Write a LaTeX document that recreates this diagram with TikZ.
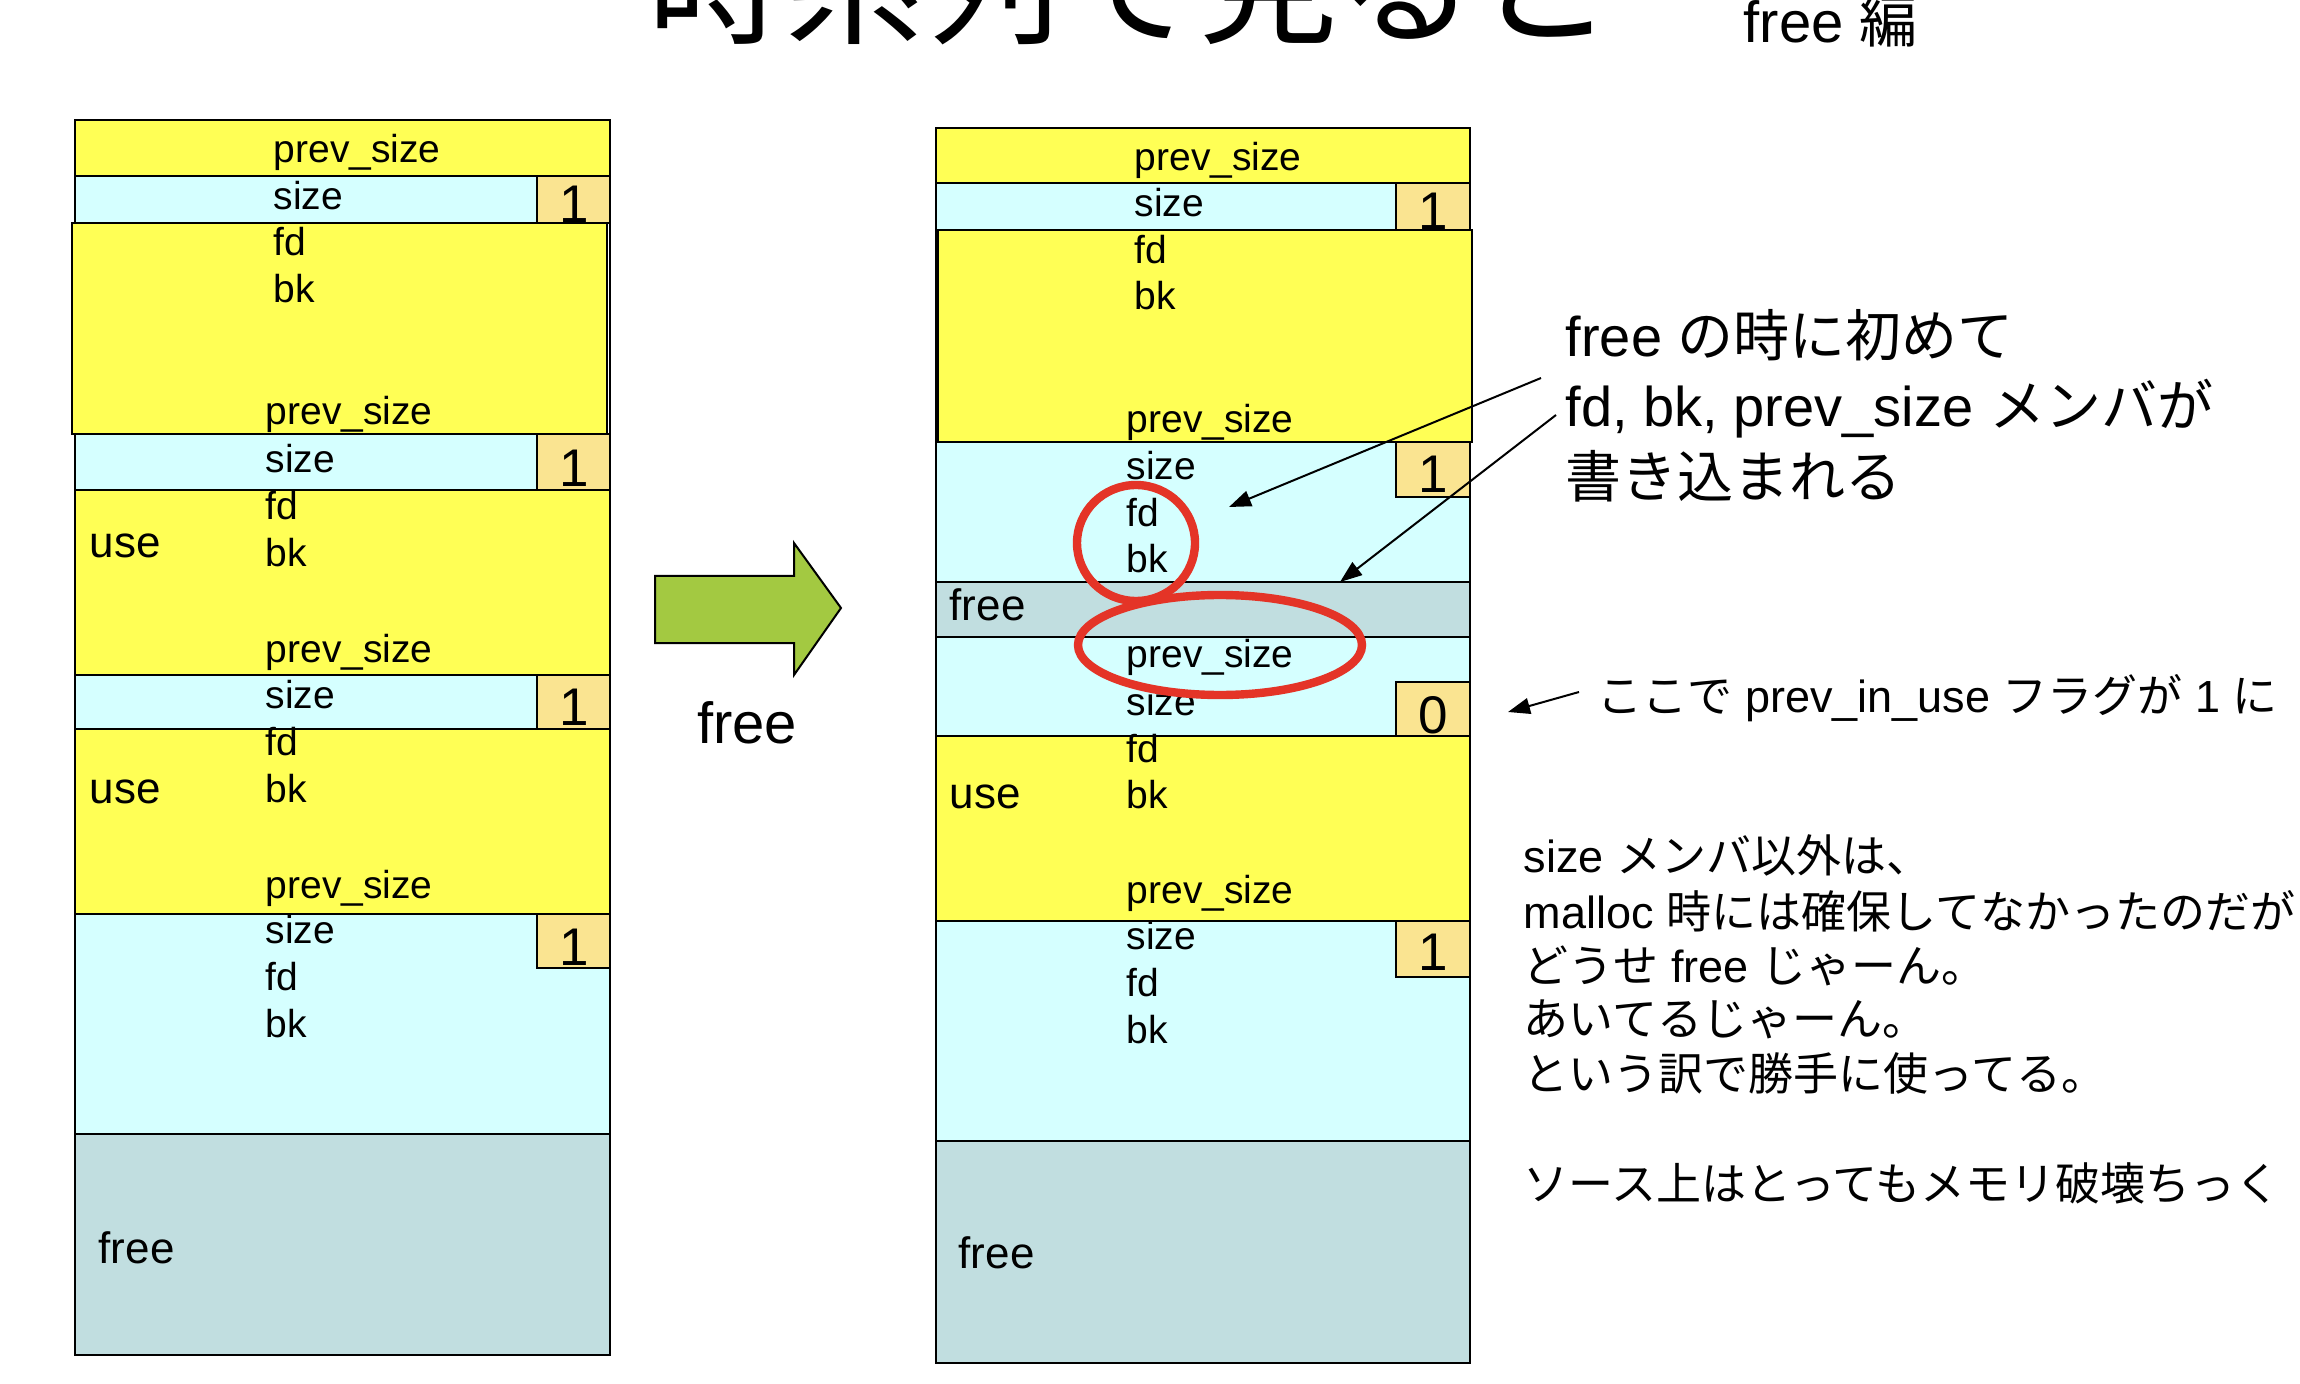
\documentclass[tikz,border=0pt]{standalone}
\usepackage{fontspec}
\setmainfont{Liberation Sans}
\newfontfamily\jp{Noto Sans CJK JP}
\usetikzlibrary{arrows.meta}

\definecolor{chunkYellow}{RGB}{255,255,85}
\definecolor{chunkCyan}{RGB}{213,255,255}
\definecolor{flagTan}{RGB}{250,228,145}
\definecolor{freeTeal}{RGB}{193,222,224}
\definecolor{moveGreen}{RGB}{163,201,65}
\definecolor{markRed}{RGB}{228,52,39}

\tikzset{every picture/.style={line width=0.75pt}}
\tikzset{
  cell/.style={draw=black,line width=1.2pt},
  field/.style={anchor=base west,inner sep=0pt,font=\fontsize{19.5}{23}\selectfont},
  state/.style={anchor=base west,inner sep=0pt,font=\fontsize{22}{26}\selectfont},
  flagnum/.style={anchor=base,inner sep=0pt,font=\fontsize{26.5}{30}\selectfont},
  note/.style={anchor=base west,inner sep=0pt,font=\fontsize{28}{34}\selectfont},
  memo/.style={anchor=base west,inner sep=0pt,font=\fontsize{22.5}{27}\selectfont},
  pointer/.style={line width=1pt,-{Triangle[length=11pt,width=8pt]}},
  ring/.style={draw=markRed,line width=4.2pt},
}

\begin{document}
\begin{tikzpicture}[x=0.5pt,y=0.5pt,yscale=-1,xscale=1]
\useasboundingbox (0,0) rectangle (2300,1384);

% Title (cut by the top edge)
\draw (647,34) node (title) [anchor=base west,inner sep=0pt,font=\fontsize{69}{80}\selectfont\jp] {時系列で見ると};
\draw (1743,43) node (subtitle) [anchor=base west,inner sep=0pt,font=\fontsize{29}{34}\selectfont] {free {\jp 編}};

%% ---------------- before free ----------------
%Shape: Rectangle (frame)
\draw [cell,fill=white] (75,120) rectangle (610,1355);
\draw [cell,fill=chunkYellow] (75,120) rectangle (610,176);
\draw [cell,fill=chunkCyan] (75,176) rectangle (610,223);
\draw [cell,fill=flagTan] (537,176) rectangle (610,223);
\draw [cell,fill=chunkYellow] (72,223) rectangle (607,434);
\draw [cell,fill=chunkCyan] (75,434) rectangle (610,490);
\draw [cell,fill=flagTan] (537,434) rectangle (610,490);
\draw [cell,fill=chunkYellow] (75,490) rectangle (610,675);
\draw [cell,fill=chunkCyan] (75,675) rectangle (610,729);
\draw [cell,fill=flagTan] (537,675) rectangle (610,729);
\draw [cell,fill=chunkYellow] (75,729) rectangle (610,914);
\draw [cell,fill=chunkCyan] (75,914) rectangle (610,1134);
\draw [cell,fill=flagTan] (537,914) rectangle (610,968);
\draw [cell,fill=freeTeal] (75,1134) rectangle (610,1355);

% Text Node
\draw (273,163) node (lPrevA) [field] {prev\_size};
\draw (273,210) node (lSizeA) [field] {size};
\draw (273,256) node (lFdA) [field] {fd};
\draw (273,303) node (lBkA) [field] {bk};
\draw (265,425) node (lPrevB) [field] {prev\_size};
\draw (265,473) node (lSizeB) [field] {size};
\draw (265,520) node (lFdB) [field] {fd};
\draw (265,567) node (lBkB) [field] {bk};
\draw (89,558) node (lUseB) [state] {use};
\draw (265,662) node (lPrevC) [field] {prev\_size};
\draw (265,708) node (lSizeC) [field] {size};
\draw (265,755) node (lFdC) [field] {fd};
\draw (265,802) node (lBkC) [field] {bk};
\draw (89,803) node (lUseC) [state] {use};
\draw (265,898) node (lPrevD) [field] {prev\_size};
\draw (265,943) node (lSizeD) [field] {size};
\draw (265,990) node (lFdD) [field] {fd};
\draw (265,1037) node (lBkD) [field] {bk};
\draw (98,1263) node (lFree) [state] {free};
% Text Node (flags)
\draw (574,223) node (lFlagA) [flagnum] {1};
\draw (574,487) node (lFlagB) [flagnum] {1};
\draw (574,725) node (lFlagC) [flagnum] {1};
\draw (574,965) node (lFlagD) [flagnum] {1};

%% ---------------- free arrow ----------------
\draw [fill=moveGreen,line width=1pt] (655,576) -- (794,576) -- (794,543) -- (841,608) -- (794,675) -- (794,643) -- (655,643) -- cycle;
\draw (747,743) node (moveLabel) [anchor=base,inner sep=0pt,font=\fontsize{29}{34}\selectfont] {free};

%% ---------------- after free ----------------
\draw [cell,fill=white] (936,128) rectangle (1470,1363);
\draw [cell,fill=chunkYellow] (936,128) rectangle (1470,183);
\draw [cell,fill=chunkCyan] (936,183) rectangle (1470,230);
\draw [cell,fill=flagTan] (1396,183) rectangle (1470,230);
\draw [cell,fill=chunkYellow] (938,230) rectangle (1472,442);
\draw [cell,fill=chunkCyan] (936,442) rectangle (1470,582);
\draw [cell,fill=flagTan] (1396,442) rectangle (1470,497);
\draw [cell,fill=freeTeal] (936,582) rectangle (1470,637);
\draw [cell,fill=chunkCyan] (936,637) rectangle (1470,736);
\draw [cell,fill=flagTan] (1396,682) rectangle (1470,736);
\draw [cell,fill=chunkYellow] (936,736) rectangle (1470,921);
\draw [cell,fill=chunkCyan] (936,921) rectangle (1470,1141);
\draw [cell,fill=flagTan] (1396,921) rectangle (1470,977);
\draw [cell,fill=freeTeal] (936,1141) rectangle (1470,1363);

% Text Node
\draw (1134,171) node (rPrevA) [field] {prev\_size};
\draw (1134,217) node (rSizeA) [field] {size};
\draw (1134,264) node (rFdA) [field] {fd};
\draw (1134,310) node (rBkA) [field] {bk};
\draw (1126,433) node (rPrevB) [field] {prev\_size};
\draw (1126,480) node (rSizeB) [field] {size};
\draw (1126,527) node (rFdB) [field] {fd};
\draw (1126,573) node (rBkB) [field] {bk};
\draw (949,620) node (rFreeB) [state] {free};
\draw (1126,668) node (rPrevC) [field] {prev\_size};
\draw (1126,715) node (rSizeC) [field] {size};
\draw (1126,762) node (rFdC) [field] {fd};
\draw (1126,808) node (rBkC) [field] {bk};
\draw (949,808) node (rUseC) [state] {use};
\draw (1126,903) node (rPrevD) [field] {prev\_size};
\draw (1126,949) node (rSizeD) [field] {size};
\draw (1126,996) node (rFdD) [field] {fd};
\draw (1126,1043) node (rBkD) [field] {bk};
\draw (958,1268) node (rFree) [state] {free};
% Text Node (flags)
\draw (1433,230) node (rFlagA) [flagnum] {1};
\draw (1433,493) node (rFlagB) [flagnum] {1};
\draw (1433,733) node (rFlagC) [flagnum] {0};
\draw (1433,970) node (rFlagD) [flagnum] {1};

%Shape: Ellipse (red marks)
\draw [ring] (1136,543) ellipse [x radius=29.5pt,y radius=29pt];
\draw [ring] (1220,645) ellipse [x radius=71pt,y radius=25pt];

%% ---------------- notes ----------------
\draw (1565,357) node (noteA) [note] {free {\jp の時に初めて}};
\draw (1565,427) node (noteB) [note] {fd, bk, prev\_size {\jp メンバが}};
\draw (1565,498) node (noteC) [note] {\jp 書き込まれる};
\coordinate (fdMark) at (1229,507);
\coordinate (prevMark) at (1340,582);
\coordinate (noteTailA) at (1541,378);
\coordinate (noteTailB) at (1556,415);
\draw [pointer] (noteTailA) -- (fdMark);
\draw [pointer] (noteTailB) -- (prevMark);

\draw (1597,712) node (flagNote) [memo] {{\jp ここで} prev\_in\_use {\jp フラグが} 1 {\jp に}};
\coordinate (flagTail) at (1579,692);
\coordinate (flagTip) at (1508,712);
\draw [pointer] (flagTail) -- (flagTip);

\draw (1523,872) node (memoA) [memo] {size {\jp メンバ以外は、}};
\draw (1523,928) node (memoB) [memo] {malloc {\jp 時には確保してなかったのだが}};
\draw (1523,982) node (memoC) [memo] {{\jp どうせ} free {\jp じゃーん。}};
\draw (1523,1035) node (memoD) [memo] {\jp あいてるじゃーん。};
\draw (1523,1090) node (memoE) [memo] {\jp という訳で勝手に使ってる。};
\draw (1523,1200) node (memoF) [memo] {\jp ソース上はとってもメモリ破壊ちっく};

\end{tikzpicture}
\end{document}
